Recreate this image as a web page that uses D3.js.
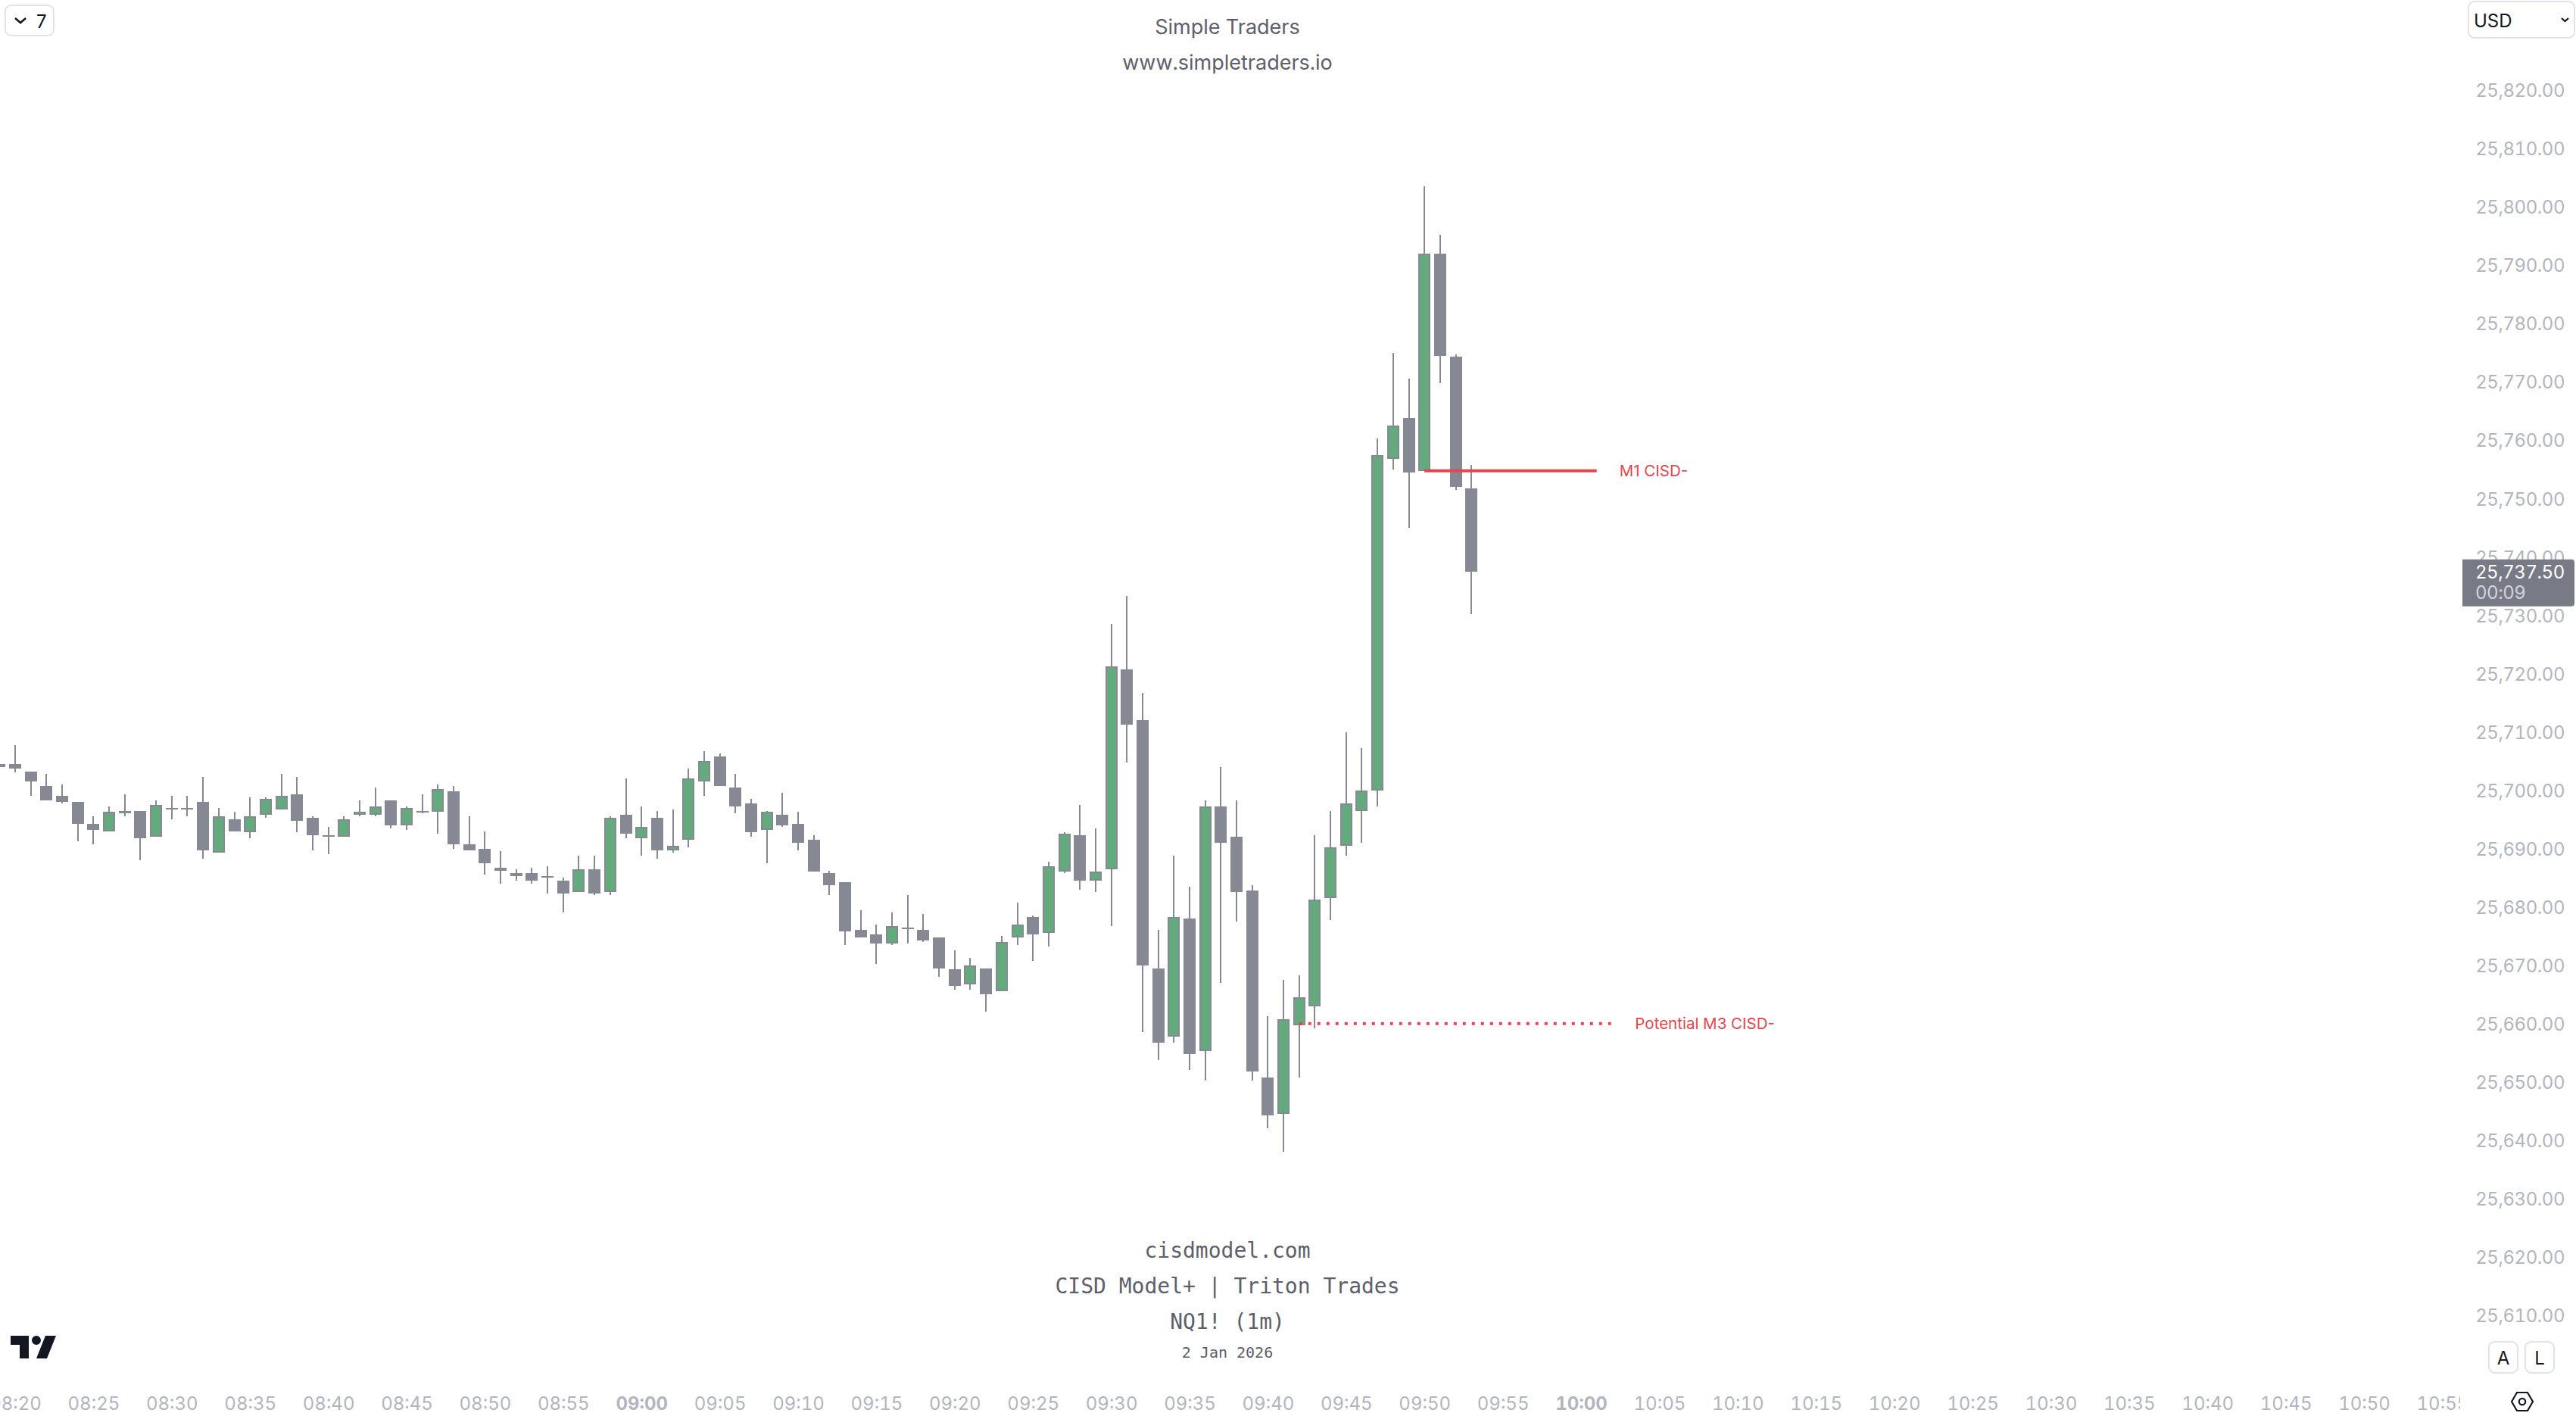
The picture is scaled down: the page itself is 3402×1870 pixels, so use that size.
<!DOCTYPE html>
<html>
<head>
<meta charset="utf-8">
<title>CISD Model+ NQ1! 1m</title>
<script src="https://cdnjs.cloudflare.com/ajax/libs/d3/7.8.5/d3.min.js"></script>
<style>
  html, body { margin: 0; padding: 0; background: #fff; overflow: hidden; }
  svg { display: block; }
  text { font-family: Inter, "Liberation Sans", sans-serif; font-feature-settings: "tnum"; }
  .price-axis text, .time-axis text { font-size: 24px; fill: #b2b5be; font-family: Inter, sans-serif; }
  .price-axis text { letter-spacing: -0.45px; }
  .time-axis text.major { font-weight: 700; }
  .header { font-size: 27px; fill: #5d606b; text-anchor: middle; }
  .mono { font-family: "DejaVu Sans Mono", monospace; fill: #5d606b; text-anchor: middle; }
  .signal { font-size: 20.5px; fill: #e2474f; dominant-baseline: central; font-feature-settings: normal; }
  .button { fill: #fff; stroke: #e0e3eb; stroke-width: 2; }
  .button-text { font-size: 24px; fill: #131722; dominant-baseline: central; }
</style>
</head>
<body>
<div id="chart"></div>
<script>
// Candles are one minute each, first one is 08:19 (cut by the left edge)
const firstMinute = -1; // minutes after 08:20

const opens = [
  25704.5, 25704.5, 25703.25, 25700.75, 25699, 25698, 25694.25, 25693, 25696, 25696.5,
  25692, 25697, 25697, 25698, 25689.25, 25695, 25692.75, 25695.75, 25696.75, 25699.25,
  25695.25, 25692.25, 25692, 25695.75, 25695.75, 25698.25, 25694, 25696.5, 25696.25, 25699.75,
  25690.75, 25690, 25686.75, 25685.75, 25685.75, 25685.25, 25684.5, 25682.5, 25686.5, 25682.5,
  25695.75, 25691.75, 25695.25, 25689.75, 25691.5, 25701.5, 25705.75, 25700.5, 25697.75, 25693.25,
  25695.75, 25694.25, 25691.5, 25685.75, 25684.25, 25676, 25675.25, 25673.75, 25676.5, 25676,
  25674.75, 25669.25, 25666.75, 25669.5, 25665.5, 25674.75, 25678.25, 25675.5, 25686, 25692.25,
  25684.5, 25686.5, 25720.75, 25712, 25669.5, 25657.75, 25678, 25655.25, 25697.25, 25692,
  25682.75, 25650.75, 25644.5, 25659.75, 25663, 25681.5, 25690.5, 25696.5, 25700, 25756.75,
  25763.75, 25754.75, 25792, 25774.25, 25751.75
];

const highs = [
  25704.5, 25707.75, 25703.25, 25702.75, 25701, 25698, 25695.5, 25697.25, 25699.25, 25696.5,
  25698.25, 25699, 25699, 25702.25, 25697, 25696.25, 25698.75, 25698.75, 25702.75, 25702.25,
  25695.5, 25693.75, 25695.5, 25698.25, 25700.5, 25698.25, 25697.25, 25699.25, 25701, 25700.75,
  25695.5, 25693, 25689.5, 25686.5, 25686.75, 25687, 25685, 25688.75, 25688.75, 25695.5,
  25702, 25697.25, 25696.5, 25696.75, 25703.75, 25706.75, 25706.25, 25702.75, 25698.5, 25696.5,
  25699.5, 25696.25, 25692.25, 25686.25, 25684.25, 25679.5, 25677, 25679, 25682, 25678.75,
  25674.75, 25672.5, 25671.25, 25669.5, 25675, 25680.75, 25678.5, 25687.75, 25692.75, 25697.5,
  25693.5, 25728.5, 25733.25, 25716.75, 25676, 25688.75, 25683.5, 25698.25, 25704, 25698.25,
  25683.75, 25661.25, 25667.5, 25668.25, 25692.25, 25696.5, 25710, 25707.25, 25760.25, 25775,
  25770.5, 25803.5, 25795.25, 25774.75, 25755.75
];

const lows = [
  25704, 25703, 25699, 25698.25, 25697.75, 25691.25, 25690.75, 25693, 25695.5, 25688,
  25692, 25695, 25695.5, 25688.25, 25689.25, 25693, 25691.75, 25695.25, 25696.75, 25692.75,
  25689.75, 25689, 25692, 25695.5, 25695.5, 25693.5, 25693.25, 25696, 25692.5, 25690,
  25689.75, 25685.5, 25684, 25684.5, 25684, 25682.25, 25679, 25682.5, 25682, 25682,
  25691.75, 25688.75, 25688.25, 25689.25, 25690.25, 25699, 25700.75, 25696, 25692, 25687.5,
  25693.75, 25689.75, 25686, 25682, 25673.5, 25674.75, 25670.25, 25673.5, 25673.75, 25674,
  25668, 25665.75, 25665.75, 25662, 25665.5, 25673.5, 25670.75, 25673.25, 25685.75, 25683,
  25682.5, 25676.75, 25704.75, 25658.5, 25653.75, 25656.75, 25652, 25650.25, 25667, 25677.5,
  25650.25, 25642, 25638, 25650.75, 25659.25, 25677.75, 25688.75, 25691, 25697.25, 25755,
  25745, 25754.75, 25769.75, 25751.5, 25730.25
];

const closes = [
  25704, 25703.75, 25701.5, 25698.25, 25698, 25694.25, 25693.25, 25696.25, 25696.5, 25691.75,
  25697.5, 25697, 25697, 25689.75, 25695.5, 25693, 25695.5, 25698.5, 25699, 25694.75,
  25692.25, 25692.25, 25695, 25696.25, 25697.25, 25694, 25697, 25696.5, 25700.25, 25690.75,
  25689.75, 25687.5, 25686.25, 25685.25, 25684.5, 25685.25, 25682.25, 25686.5, 25682.25, 25695.25,
  25692.5, 25693.75, 25689.75, 25690.5, 25702, 25705, 25700.75, 25697.25, 25692.75, 25696.25,
  25694, 25691, 25686, 25683.75, 25675.75, 25674.75, 25673.75, 25676.75, 25676.5, 25674.25,
  25669.5, 25666.5, 25670, 25665, 25674, 25677, 25675.25, 25687, 25692.5, 25684.5,
  25686, 25721.25, 25711.25, 25670, 25656.75, 25678.25, 25654.75, 25697.25, 25691, 25682.5,
  25651.75, 25644.25, 25660.75, 25664.5, 25681.25, 25690.25, 25697.75, 25700, 25757.5, 25762.5,
  25754.5, 25792, 25774.5, 25752, 25737.5
];

// Axis labels
const priceTicks = d3.range(25820, 25600, -10);
const timeLabels = [
  "08:20", "08:25", "08:30", "08:35", "08:40", "08:45", "08:50", "08:55",
  "09:00", "09:05", "09:10", "09:15", "09:20", "09:25", "09:30", "09:35",
  "09:40", "09:45", "09:50", "09:55", "10:00", "10:05", "10:10", "10:15",
  "10:20", "10:25", "10:30", "10:35", "10:40", "10:45", "10:50", "10:55"
];
const majorTimes = ["09:00", "10:00"];

// Drawn levels: price, first minute, last minute
const signalNames = ["M1 CISD-", "Potential M3 CISD-"];
const signalPrices = [25754.75, 25660];
const signalStarts = [90, 82];
const signalEnds = [101, 102];

const lastPrice = 25737.5;
const lastPriceLabel = "25,737.50";
const countdown = "00:09";

const watermarkLines = ["cisdmodel.com", "CISD Model+ | Triton Trades", "NQ1! (1m)", "2 Jan 2026"];
const headerLines = ["Simple Traders", "www.simpletraders.io"];

// Chart size
const width = 3402;
const height = 1870;
const axisLeftEdge = 3249;

const wickColor = "#868993";
const upColor = "#63aa7c";
const bodyWidth = 16;

const svg = d3.select("#chart")
  .append("svg")
  .attr("width", width)
  .attr("height", height);

// Scales, minutes after 08:20 to x and price to y
const x = d3.scaleLinear().domain([0, 100]).range([20, 2088]);
const y = d3.scaleLinear().domain([25820, 25610]).range([119, 1737]);

const candles = opens.map((open, i) => ({
  minute: firstMinute + i,
  open,
  high: highs[i],
  low: lows[i],
  close: closes[i]
}));

svg.append("clipPath")
  .attr("id", "pane-clip")
  .append("rect")
  .attr("width", axisLeftEdge)
  .attr("height", height);

// Price axis
const priceAxis = svg.append("g")
  .attr("class", "price-axis")
  .attr("transform", "translate(3387,1)")
  .call(d3.axisLeft(y)
    .tickValues(priceTicks)
    .tickSize(0)
    .tickPadding(0)
    .tickFormat(d3.format(",.2f")));
priceAxis.select(".domain").remove();

// Time axis
const timeAxis = svg.append("g")
  .attr("clip-path", "url(#pane-clip)")
  .append("g")
  .attr("class", "time-axis")
  .attr("transform", "translate(0,1845)")
  .call(d3.axisBottom(x)
    .tickValues(timeLabels.map((d, i) => i * 5))
    .tickSize(0)
    .tickPadding(0)
    .tickFormat((d, i) => timeLabels[i]));
timeAxis.select(".domain").remove();
timeAxis.selectAll("text").classed("major", (d, i) => majorTimes.includes(timeLabels[i]));

// Candles
const candleGroup = svg.append("g")
  .attr("shape-rendering", "crispEdges")
  .selectAll("g")
  .data(candles)
  .join("g");

candleGroup.append("rect")
  .attr("x", d => Math.round(x(d.minute)) - 1)
  .attr("width", 2)
  .attr("y", d => Math.round(y(d.high)))
  .attr("height", d => Math.round(y(d.low)) - Math.round(y(d.high)))
  .attr("fill", wickColor);

candleGroup.append("rect")
  .attr("x", d => Math.round(x(d.minute)) - bodyWidth / 2)
  .attr("width", bodyWidth)
  .attr("y", d => Math.round(y(Math.max(d.open, d.close))))
  .attr("height", d => Math.max(2, Math.round(y(Math.min(d.open, d.close))) - Math.round(y(Math.max(d.open, d.close)))))
  .attr("fill", wickColor);

// Rising candles keep a grey border around the green fill
candleGroup.filter(d => d.close > d.open)
  .append("rect")
  .attr("x", d => Math.round(x(d.minute)) - bodyWidth / 2 + 2)
  .attr("width", bodyWidth - 4)
  .attr("y", d => Math.round(y(d.close)) + 2)
  .attr("height", d => Math.max(1, Math.round(y(d.open)) - Math.round(y(d.close)) - 4))
  .attr("fill", upColor);

// Signal levels
signalNames.forEach((name, i) => {
  svg.append("line")
    .attr("x1", x(signalStarts[i]))
    .attr("x2", x(signalEnds[i]))
    .attr("y1", y(signalPrices[i]))
    .attr("y2", y(signalPrices[i]))
    .attr("stroke", "#e2474f")
    .attr("stroke-width", 4)
    .attr("stroke-dasharray", i === 1 ? "4 8" : null);

  svg.append("text")
    .attr("class", "signal")
    .attr("x", x(signalEnds[i]) + 30)
    .attr("y", y(signalPrices[i]))
    .text(name);
});

// Last price tag
const tagY = y(lastPrice);
svg.append("path")
  .attr("d", `M3252,${tagY - 16}h144a4,4 0 0 1 4,4v54a4,4 0 0 1 -4,4h-144z`)
  .attr("fill", "#787b86");
svg.append("text")
  .attr("x", 3269)
  .attr("y", tagY + 1)
  .attr("dy", "0.35em")
  .attr("font-size", 24)
  .attr("letter-spacing", -0.45)
  .attr("fill", "#fff")
  .text(lastPriceLabel);
svg.append("text")
  .attr("x", 3269)
  .attr("y", tagY + 28)
  .attr("dy", "0.35em")
  .attr("font-size", 24)
  .attr("letter-spacing", -0.45)
  .attr("fill", "#d1d4dc")
  .text(countdown);

// Header and watermark
svg.selectAll("text.header")
  .data(headerLines)
  .join("text")
  .attr("class", "header")
  .attr("x", 1621)
  .attr("y", (d, i) => 36 + i * 47)
  .attr("dy", "0.35em")
  .text(d => d);

const watermarkY = [1651, 1698, 1745, 1786];
const watermarkSize = [28, 28, 28, 20];
svg.selectAll("text.mono")
  .data(watermarkLines)
  .join("text")
  .attr("class", "mono")
  .attr("x", 1621)
  .attr("y", (d, i) => watermarkY[i])
  .attr("dy", "0.35em")
  .attr("font-size", (d, i) => watermarkSize[i])
  .text(d => d);

// TradingView logo
svg.append("path")
  .attr("transform", "translate(10,1752) scale(2)")
  .attr("fill", "#131722")
  .attr("d", "M14 6H2v6h6v9h6V6Zm12 15h-7l6-15h7l-6 15Zm-7-9a3 3 0 1 0 0-6 3 3 0 0 0 0 6Z");

// Small controls
svg.append("rect").attr("class", "button")
  .attr("x", 7).attr("y", 7).attr("width", 64).attr("height", 40).attr("rx", 8);
svg.append("path")
  .attr("d", "M20,24l7,6l7,-6")
  .attr("fill", "none").attr("stroke", "#131722").attr("stroke-width", 2.5);
svg.append("text").attr("class", "button-text")
  .attr("x", 47).attr("y", 28).attr("font-size", 28).text("7");

svg.append("rect").attr("class", "button")
  .attr("x", 3260).attr("y", 2).attr("width", 140).attr("height", 48).attr("rx", 8);
svg.append("text").attr("class", "button-text")
  .attr("x", 3267).attr("y", 27).text("USD");
svg.append("path")
  .attr("d", "M3383,24l4.5,4l4.5,-4")
  .attr("fill", "none").attr("stroke", "#131722").attr("stroke-width", 2.2);

const corner = [["A", 3287], ["L", 3335]];
corner.forEach(([label, left]) => {
  svg.append("rect").attr("class", "button")
    .attr("x", left).attr("y", 1772).attr("width", 38).attr("height", 41).attr("rx", 8);
  svg.append("text").attr("class", "button-text")
    .attr("x", left + 19).attr("y", 1793).attr("text-anchor", "middle").text(label);
});

// Settings hexagon
svg.append("path")
  .attr("d", "M3317,1851l7,-12h14l7,12l-7,12h-14z")
  .attr("fill", "none").attr("stroke", "#131722").attr("stroke-width", 2.2);
svg.append("circle")
  .attr("cx", 3331).attr("cy", 1851).attr("r", 4.2)
  .attr("fill", "none").attr("stroke", "#131722").attr("stroke-width", 2.2);
</script>
</body>
</html>
